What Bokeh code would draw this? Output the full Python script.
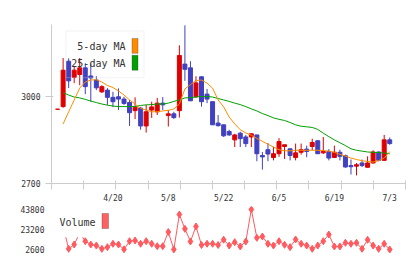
from bokeh.plotting import figure
from bokeh.layouts import column
from bokeh.models import Range1d, FixedTicker, BoxAnnotation, Label, ColumnDataSource
from bokeh.embed import file_html
from bokeh.resources import INLINE

nan = float("nan")

# ---- daily prices (61 sessions, last one 07/03) ----
opens = [2957, 2966, 3123, 3067, 3077, 3100, 3072, 3058, 3017, 3023,
         2998, 3000, 2992, 2980, 2952, 2961, 2899, 2954, 2948, 2978,
         2935, 2941, 2952, 3113, 3100, 3000, 3069, 3009, 2983, 2909,
         2903, 2880, 2851, 2874, 2861, 2861, 2868, 2797, 2817, 2790,
         2803, 2828, 2820, 2790, 2808, 2819, 2828, 2848, 2806, 2811,
         2790, 2808, 2796, 2762, 2760, 2771, 2756, 2771, 2809, 2780,
         2851]
highs = [2957, 3134, 3133, 3103, 3134, 3116, 3115, 3071, 3040, 3030,
         3017, 3029, 3000, 2989, 2998, 2965, 2972, 2983, 2996, 2999,
         2954, 2948, 3178, 3247, 3123, 3071, 3071, 3027, 2983, 2937,
         2903, 2886, 2872, 2879, 2868, 2872, 2868, 2809, 2840, 2827,
         2857, 2834, 2820, 2838, 2838, 2831, 2855, 2848, 2861, 2819,
         2831, 2817, 2800, 2783, 2771, 2783, 2794, 2815, 2811, 2868,
         2859]
lows = [2957, 2962, 3030, 3047, 3040, 3009, 2983, 3023, 3013, 2972,
        2964, 2954, 2972, 2899, 2923, 2886, 2876, 2927, 2937, 2954,
        2897, 2923, 2928, 3055, 2986, 2997, 2966, 2978, 2903, 2897,
        2861, 2865, 2826, 2826, 2826, 2826, 2777, 2748, 2777, 2780,
        2792, 2785, 2780, 2780, 2800, 2791, 2815, 2802, 2802, 2780,
        2790, 2780, 2755, 2731, 2728, 2757, 2756, 2769, 2777, 2780,
        2834]
closes = [2957, 3092, 3055, 3092, 3100, 3035, 3065, 3031, 3035, 2998,
          2983, 2992, 2977, 2945, 2964, 2899, 2948, 2965, 2978, 2972,
          2941, 2928, 3143, 3095, 2986, 3048, 2983, 2992, 2903, 2900,
          2865, 2868, 2868, 2855, 2838, 2872, 2803, 2792, 2802, 2803,
          2845, 2834, 2797, 2806, 2817, 2811, 2842, 2803, 2811, 2788,
          2808, 2794, 2757, 2758, 2765, 2762, 2771, 2809, 2780, 2851,
          2838]

# ---- moving averages ----
ma5 = [nan, 2906, 2948, 2989, 3030, 3051, 3058, 3059, 3051, 3039,
       3032, 3020, 3006, 2989, 2975, 2960, 2954, 2948, 2948, 2951,
       2953, 2958, 2975, 3027, 3042, 3056, 3058, 3047, 3030, 2989,
       2965, 2930, 2906, 2886, 2875, 2867, 2856, 2846, 2836, 2826,
       2817, 2813, 2813, 2815, 2815, 2815, 2815, 2815, 2814, 2812,
       2808, 2801, 2795, 2788, 2783, 2779, 2776, 2774, 2779, 2788,
       2810]
ma25 = [nan, 3014, 3006, 2999, 2996, 2991, 2985, 2980, 2975, 2971,
        2968, 2966, 2966, 2966, 2966, 2970, 2972, 2973, 2975, 2975,
        2978, 2984, 2989, 2996, 2997, 2999, 3001, 3001, 2999, 2994,
        2989, 2984, 2978, 2973, 2966, 2958, 2951, 2942, 2935, 2927,
        2922, 2918, 2911, 2903, 2898, 2896, 2894, 2887, 2874, 2862,
        2851, 2841, 2831, 2820, 2815, 2812, 2809, 2808, 2807, 2805,
        2803]

# ---- volume ----
volume = [20100, 26300, 3300, 7750, 19600, 11150, 7750, 6700, 3300, 5000,
          8500, 7750, 2800, 11150, 11900, 8500, 11150, 8500, 6000, 6000,
          20600, 2700, 38650, 23900, 10850, 26300, 7250, 8500, 8500, 7250,
          12700, 6700, 10100, 5700, 10850, 43800, 14650, 16000, 8500, 6700,
          11150, 7450, 5000, 12900, 8500, 6700, 3300, 6700, 11150, 18050,
          5700, 5700, 9500, 8500, 9500, 3300, 12600, 6700, 3300, 8500,
          2600]

date_labels = {10: "4/20", 20: "5/8", 30: "5/22", 40: "6/5", 50: "6/19", 60: "7/3"}
price_ticks = [2700, 3000]
volume_ticks = [2600, 23200, 43800]

UP = "#dd0000"
DOWN = "#4040c0"
MA5_COLOR = "#ff8c00"
MA25_COLOR = "#00a000"
VOL_COLOR = "#ff5a5f"
AXIS = "#cccccc"
TEXT = "#333333"
FONT = "DejaVu Sans Mono"

# ---- geometry of the two frames ----
X_START, X_END = -1.1, 62.85
FRAME_L, FRAME_W = 51, 354
P_TOP, P_H = 24, 160
P_LO, P_HI = 2700, 3250
V_LO, V_HI = -1520, 46890
V_TOP, V_H = 206, 47


def px_x(px):
    return X_START + (px - FRAME_L) * (X_END - X_START) / FRAME_W


def px_y(py):
    return P_HI - (py - P_TOP) * (P_HI - P_LO) / P_H


def px_v(py):
    return V_HI - (py - V_TOP) * (V_HI - V_LO) / V_H


n = len(closes)
idx = list(range(n))
colors = [UP if c >= o else DOWN for o, c in zip(opens, closes)]
src = ColumnDataSource(dict(
    x=idx, o=opens, h=highs, l=lows, c=closes,
    top=[max(o, c) for o, c in zip(opens, closes)],
    bottom=[min(o, c) for o, c in zip(opens, closes)],
    color=colors, ma5=ma5, ma25=ma25, vol=volume,
))

# ---- price panel ----
p = figure(width=420, height=205, x_range=Range1d(X_START, X_END),
           y_range=Range1d(P_LO, P_HI), output_backend="svg",
           toolbar_location=None, min_border_left=FRAME_L,
           min_border_right=420 - FRAME_L - FRAME_W, min_border_top=P_TOP,
           min_border_bottom=205 - P_TOP - P_H)
p.grid.visible = False
p.outline_line_color = None
p.background_fill_color = "white"
p.border_fill_color = "white"

step = (X_END - X_START) / 11
grid_ticks = [X_START + k * step for k in range(11)] + [X_END - 1e-6]
xa = p.xaxis[0]
xa.ticker = FixedTicker(ticks=list(date_labels.keys()), minor_ticks=grid_ticks)
xa.major_label_overrides = date_labels
xa.major_tick_in = 0
xa.major_tick_out = 0
xa.minor_tick_in = 3
xa.minor_tick_out = 6
xa.minor_tick_line_color = AXIS
xa.axis_line_color = AXIS
xa.major_label_standoff = 4
xa.major_label_text_font = FONT
xa.major_label_text_font_size = "8px"
xa.major_label_text_color = TEXT

ya = p.yaxis[0]
ya.ticker = FixedTicker(ticks=price_ticks)
ya.major_tick_in = 2
ya.major_tick_out = 6
ya.major_tick_line_color = AXIS
ya.axis_line_color = AXIS
ya.major_label_standoff = 5
ya.major_label_text_font = FONT
ya.major_label_text_font_size = "8px"
ya.major_label_text_color = TEXT

p.segment(x0="x", y0="l", x1="x", y1="h", color="color", line_width=1, source=src)
p.vbar(x="x", width=0.72, top="top", bottom="bottom", fill_color="color",
       line_color="color", line_width=1, source=src)
p.line("x", "ma25", color=MA25_COLOR, line_width=1, source=src)
p.line("x", "ma5", color=MA5_COLOR, line_width=1, source=src)

# legend of the moving averages
p.add_layout(BoxAnnotation(left=px_x(65.5), right=px_x(143.5), top=px_y(30.5),
                           bottom=px_y(77.5), fill_color=None,
                           line_color="#d8d8d8", line_width=1))
for text, ty, col in [("5-day MA", 46, MA5_COLOR), ("25-day MA", 63, MA25_COLOR)]:
    p.add_layout(Label(x=px_x(125), y=px_y(ty), text=text, text_align="right",
                       text_baseline="middle", text_font=FONT,
                       text_font_size="10px", text_color=TEXT))
    p.add_layout(BoxAnnotation(left=px_x(131.5), right=px_x(137.5),
                               top=px_y(ty - 8), bottom=px_y(ty + 7),
                               fill_color=col, fill_alpha=1,
                               line_color="#333333", line_width=1))

# header line
p.add_layout(Label(x=px_x(8), y=px_y(12), text="9312 07/03 16:59 updated.",
                   text_align="left", text_baseline="middle", text_font=FONT,
                   text_font_size="10px", text_color=TEXT))
p.add_layout(Label(x=px_x(408), y=px_y(12), text="(C)https://www.rizumu.net/",
                   text_align="right", text_baseline="middle", text_font=FONT,
                   text_font_size="10px", text_color=TEXT))

# ---- volume panel ----
v = figure(width=420, height=54, x_range=p.x_range, y_range=Range1d(V_LO, V_HI),
           output_backend="svg", toolbar_location=None, x_axis_location=None,
           min_border_left=FRAME_L, min_border_right=420 - FRAME_L - FRAME_W,
           min_border_top=1, min_border_bottom=54 - 1 - V_H)
v.grid.visible = False
v.outline_line_color = None
v.background_fill_color = "white"
v.border_fill_color = "white"
va = v.yaxis[0]
va.ticker = FixedTicker(ticks=volume_ticks)
va.axis_line_color = None
va.major_tick_in = 0
va.major_tick_out = 0
va.major_label_standoff = 7
va.major_label_text_font = FONT
va.major_label_text_font_size = "8px"
va.major_label_text_color = TEXT

v.line("x", "vol", color=VOL_COLOR, line_width=1, source=src)
v.scatter("x", "vol", marker="diamond", size=7, fill_color=VOL_COLOR,
          line_color=VOL_COLOR, source=src)

v.add_layout(BoxAnnotation(left=px_x(51), right=px_x(113), top=px_v(206),
                           bottom=px_v(236.7), fill_color="white", fill_alpha=1,
                           line_color=None))
v.add_layout(Label(x=px_x(59), y=px_v(221.5), text="Volume", text_align="left",
                   text_baseline="middle", text_font=FONT, text_font_size="10px",
                   text_color=TEXT))
v.add_layout(BoxAnnotation(left=px_x(101.5), right=px_x(108), top=px_v(213),
                           bottom=px_v(228), fill_color="#ff6060", fill_alpha=1,
                           line_color="#333333", line_width=1))

layout = column(p, v, spacing=0)
open("out.html", "w").write(file_html(layout, INLINE))
